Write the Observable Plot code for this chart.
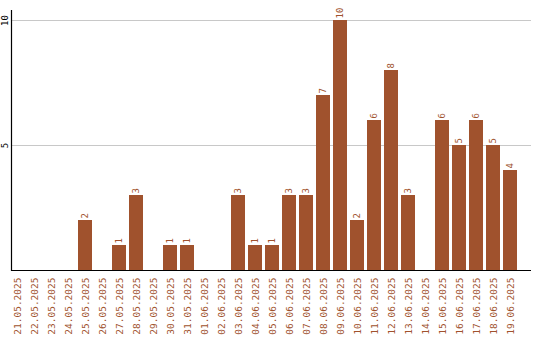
<!DOCTYPE html>
<html><head><meta charset="utf-8">
<script src="https://cdn.jsdelivr.net/npm/d3@7"></script>
<script src="https://cdn.jsdelivr.net/npm/@observablehq/plot@0.6"></script>
<style>body{margin:0;background:#fff}</style>
</head><body><div id="chart"></div>
<script>
const dates = ["21.05.2025","22.05.2025","23.05.2025","24.05.2025","25.05.2025","26.05.2025","27.05.2025","28.05.2025","29.05.2025","30.05.2025","31.05.2025","01.06.2025","02.06.2025","03.06.2025","04.06.2025","05.06.2025","06.06.2025","07.06.2025","08.06.2025","09.06.2025","10.06.2025","11.06.2025","12.06.2025","13.06.2025","14.06.2025","15.06.2025","16.06.2025","17.06.2025","18.06.2025","19.06.2025"];
const counts = [0,0,0,0,2,0,1,3,0,1,1,0,0,3,1,1,3,3,7,10,2,6,8,3,0,6,5,6,5,4];
const yTicks = [5, 10];

const data = dates.map((d, i) => ({date: d, value: counts[i]}));
const nonzero = data.filter(d => d.value > 0);
const brown = "#a0522d";
const font = "DejaVu Sans Mono";

const chart = Plot.plot({
  width: 540,
  height: 340,
  marginLeft: 11,
  marginRight: 9,
  marginTop: 10,
  marginBottom: 70,
  style: {fontFamily: font, background: "#fff"},
  x: {type: "band", domain: dates, padding: 3/17, insetLeft: -4, insetRight: 11, axis: null},
  y: {domain: [0, 10.4], axis: null},
  marks: [
    Plot.ruleY(yTicks, {stroke: "#c8c8c8", strokeWidth: 1}),
    Plot.barY(data, {x: "date", y: "value", fill: brown}),
    Plot.text(nonzero, {x: "date", y: "value", text: d => String(d.value), rotate: -90, textAnchor: "start", lineAnchor: "middle", dy: -2, fill: brown, fontSize: 9}),
    Plot.axisX({tickSize: 0, tickRotate: -90, tickPadding: 7, fontSize: 9.5, fill: brown, color: brown, textAnchor: "end", label: null}),
    Plot.text(yTicks, {y: d => d, text: d => String(d), frameAnchor: "left", dx: -6, rotate: -90, textAnchor: "middle", lineAnchor: "middle", fill: "#000", fontSize: 9}),
    Plot.ruleY([0], {stroke: "#000", strokeWidth: 1.2}),
    Plot.frame({anchor: "left", stroke: "#000", strokeWidth: 1.2})
  ]
});
document.getElementById("chart").appendChild(chart);
</script>
</body></html>
